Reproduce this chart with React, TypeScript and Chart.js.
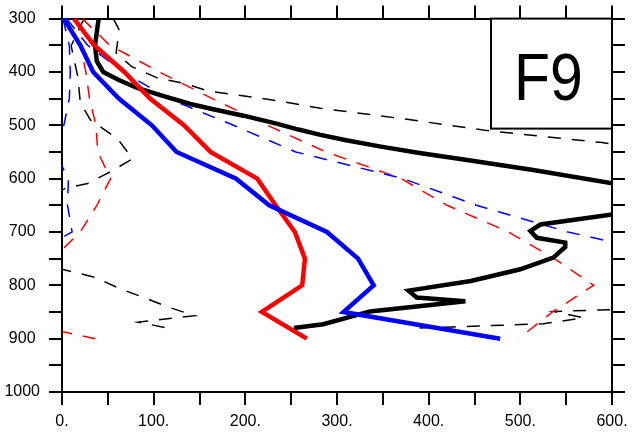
import React, { useEffect, useRef } from 'react';
import { Chart, registerables } from 'chart.js';
Chart.register(...registerables);

// pressure levels (hPa) for red / blue profiles
const levels = [300, 350, 400, 450, 500, 550, 600, 650, 700, 750, 800, 850, 900];
const redMean = [13, 35, 68, 96, 133, 162, 213, 233, 254, 265, 262, 218, 267];
const redUpper = [22, 52, 106, 164, 224, 288, 370, 420, 487, 537, 580, 535, 498];
const redLower = [3, 20, 26, 30, 37, 39, 53, 38, 20, -10, -56, -99, 36];
const blueMean = [2, 20, 34, 62, 98, 125, 190, 226, 289, 323, 340, 307, 478];
const blueUpper = [5, 28, 67, 116, 187, 255, 372, 452, 552, 680, 720, 700, 760];
const blueLower = [1, 8, 9, 8, 2, -8, 7, 6, 11, -40, -60, -100, -50];

// black profile (irregular levels)
const blackP = [300, 325, 350, 380, 400, 415, 430, 445, 460, 470, 482, 497, 508, 518, 528, 540, 552, 565, 584, 609, 635, 667, 686, 698, 711, 720, 728, 748, 770, 792, 810, 823, 830, 849, 873, 880];
const blackMean = [40, 38, 36, 38, 45, 62, 82, 110, 140, 165, 198, 234, 258, 282, 310, 348, 390, 442, 514, 601, 660, 601, 522, 511, 518, 549, 549, 536, 500, 446, 378, 387, 440, 336, 285, 253];
const blackUpperP = [300, 320, 340, 364, 390, 412, 421, 436, 451, 468, 488, 510, 532, 560, 700, 840, 849, 861, 872, 878, 880];
const blackUpper = [56, 62, 61, 59, 76, 105, 133, 160, 224, 282, 373, 464, 587, 720, 900, 700, 536, 569, 525, 427, 390];
const blackLowerP = [300, 351, 407, 457, 490, 526, 563, 587, 609, 618, 650, 700, 750, 770, 785, 807, 824, 842, 857, 869, 881];
const blackLower = [24, 10, 17, 20, 31, 61, 77, 53, 28, 4, -30, -80, -40, 0, 36, 64, 91, 118, 145, 83, 118];

// axis ticks
const xTickValues = [0, 100, 200, 300, 400, 500, 600];
const xTickLabels = ['0.', '100.', '200.', '300.', '400.', '500.', '600.'];
const yTickValues = [300, 400, 500, 600, 700, 800, 900, 1000];
const yTickLabels = ['300', '400', '500', '600', '700', '800', '900', '1000'];
const panelLabel = 'F9';

const FONT = "'Liberation Sans', Arial, Helvetica, sans-serif";

function pts(p: number[], x: number[]) {
  return p.map((pp, i) => ({ x: x[i], y: pp }));
}

const boxPlugin = {
  id: 'panelBox',
  afterDraw(chart: any) {
    const { ctx, chartArea } = chart;
    const w = 121;
    const h = 110;
    const x0 = chartArea.right - w;
    const y0 = chartArea.top;
    ctx.save();
    ctx.fillStyle = '#fff';
    ctx.fillRect(x0, y0, w, h);
    ctx.strokeStyle = '#000';
    ctx.lineWidth = 2;
    ctx.strokeRect(x0, y0, w, h);
    ctx.fillStyle = '#000';
    ctx.font = `67px ${FONT}`;
    ctx.textAlign = 'center';
    ctx.textBaseline = 'alphabetic';
    ctx.translate(x0 + w / 2 - 3, y0 + 81);
    ctx.scale(0.88, 1);
    ctx.fillText(panelLabel, 0, 0);
    ctx.restore();
  },
};

export default function App() {
  const ref = useRef<HTMLCanvasElement>(null);
  useEffect(() => {
    const canvas = ref.current!;
    const solid = (color: string, p: number[], x: number[], order: number) => ({
      data: pts(p, x),
      borderColor: color,
      backgroundColor: color,
      borderWidth: 4.5,
      pointRadius: 0,
      showLine: true,
      fill: false,
      tension: 0,
      order,
      clip: 0,
      borderJoinStyle: 'miter',
    });
    const dashed = (color: string, p: number[], x: number[], order: number) => ({
      data: pts(p, x),
      borderColor: color,
      backgroundColor: color,
      borderWidth: 1.5,
      borderDash: [13, 11],
      pointRadius: 0,
      showLine: true,
      fill: false,
      tension: 0,
      order,
      clip: 0,
    });
    const gridOpts = {
      drawOnChartArea: false,
      drawTicks: true,
      tickLength: 13,
      color: '#000',
      lineWidth: 2,
    };
    const borderOpts = { display: true, color: '#000', width: 2 };
    const chart = new Chart(canvas, {
      type: 'scatter',
      data: {
        datasets: [
          dashed('#000', blackUpperP, blackUpper, 5),
          dashed('#000', blackLowerP, blackLower, 5),
          dashed('#ff0000', levels, redUpper, 4),
          dashed('#ff0000', levels, redLower, 4),
          dashed('#0000ff', levels, blueUpper, 3),
          dashed('#0000ff', levels, blueLower, 3),
          solid('#000', blackP, blackMean, 2),
          solid('#ff0000', levels, redMean, 1),
          solid('#0000ff', levels, blueMean, 0),
        ] as any,
      },
      options: {
        responsive: false,
        animation: false,
        devicePixelRatio: 1,
        layout: { padding: 0 },
        plugins: { legend: { display: false }, tooltip: { enabled: false } },
        scales: {
          x: {
            type: 'linear',
            position: 'bottom',
            min: 0,
            max: 600,
            grid: gridOpts,
            border: borderOpts,
            ticks: {
              stepSize: 50,
              autoSkip: false,
              maxRotation: 0,
              padding: 7,
              color: '#000',
              font: { family: FONT, size: 16 },
              callback: (v: any) => {
                const i = xTickValues.indexOf(Number(v));
                return i >= 0 ? xTickLabels[i] : '';
              },
            },
            afterFit: (s: any) => { s.height = 47; },
          },
          x2: {
            type: 'linear',
            position: 'top',
            min: 0,
            max: 600,
            grid: gridOpts,
            border: borderOpts,
            ticks: { stepSize: 50, autoSkip: false, maxRotation: 0, callback: () => '' },
            afterFit: (s: any) => { s.height = 16; },
          },
          y: {
            type: 'linear',
            position: 'left',
            reverse: true,
            min: 300,
            max: 1000,
            grid: gridOpts,
            border: borderOpts,
            ticks: {
              stepSize: 50,
              autoSkip: false,
              padding: 9,
              crossAlign: 'center',
              color: '#000',
              font: { family: FONT, size: 16 },
              callback: (v: any) => {
                const i = yTickValues.indexOf(Number(v));
                return i >= 0 ? yTickLabels[i] : '';
              },
            },
            afterFit: (s: any) => { s.width = 62; },
          },
          y2: {
            type: 'linear',
            position: 'right',
            reverse: true,
            min: 300,
            max: 1000,
            grid: gridOpts,
            border: borderOpts,
            ticks: { stepSize: 50, autoSkip: false, callback: () => '' },
            afterFit: (s: any) => { s.width = 28; },
          },
        },
      } as any,
      plugins: [boxPlugin],
    });
    return () => chart.destroy();
  }, []);
  return (
    <div style={{ position: 'absolute', left: 0, top: 0, width: 640, height: 439, background: '#fff' }}>
      <canvas ref={ref} width={640} height={439} style={{ display: 'block' }} />
    </div>
  );
}
